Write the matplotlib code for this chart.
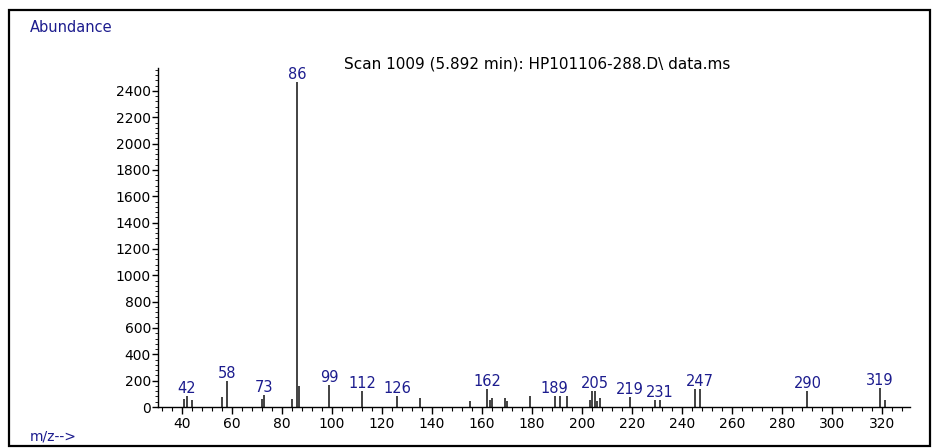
import numpy as np
import matplotlib
matplotlib.use('Agg')
import matplotlib.pyplot as plt
from matplotlib.patches import Rectangle
from matplotlib.ticker import MultipleLocator, FixedLocator

plt.rcParams['font.family'] = ['DejaVu Sans']

# peak list (m/z, abundance)
mz = [41, 42, 44, 56, 58, 72, 73, 84, 86, 87, 99, 112, 126, 135, 155,
      162, 163, 164, 169, 170, 179, 189, 191, 194, 203, 204, 205, 206,
      207, 219, 229, 231, 245, 247, 290, 319, 321]
abund = [64, 82, 51, 74, 197, 59, 92, 59, 2470, 156, 167, 120, 82, 72, 47,
         134, 51, 66, 71, 49, 82, 82, 82, 82, 56, 120, 120, 46,
         72, 75, 56, 56, 137, 137, 120, 142, 50]
labelled = [42, 58, 73, 86, 99, 112, 126, 162, 189, 205, 219, 231, 247, 290, 319]

title = 'Scan 1009 (5.892 min): HP101106-288.D\\ data.ms'
navy = '#1c1c8e'

W, H = 938, 448
fig = plt.figure(figsize=(W / 100, H / 100), dpi=100)


def fx(px):
    return px / W


def fy(py):
    return 1 - py / H


# outer frame
fig.patches.append(Rectangle((fx(9), fy(446)), fx(930) - fx(9), fy(10) - fy(446),
                             transform=fig.transFigure, fill=False,
                             edgecolor='black', lw=1.6))

ax = fig.add_axes([fx(158), fy(407), fx(910) - fx(158), fy(68) - fy(407)])
ax.vlines(mz, 0, abund, colors='#222222', lw=1.2)

lookup = dict(zip(mz, abund))
for m in labelled:
    ax.annotate(str(m), (m, lookup[m]), xytext=(0, 0), textcoords='offset points',
                ha='center', va='bottom', color=navy, fontsize=10.5,
                bbox=dict(facecolor='white', edgecolor='none', pad=0))

ax.set_xlim(30.5, 331)
ax.set_ylim(0, 2574)
for s in ['top', 'right']:
    ax.spines[s].set_visible(False)
for s in ['left', 'bottom']:
    ax.spines[s].set_linewidth(1.0)

ax.xaxis.set_major_locator(FixedLocator(np.arange(40, 321, 20)))
ax.xaxis.set_minor_locator(FixedLocator(np.arange(32, 331, 4)))
ax.yaxis.set_major_locator(FixedLocator(np.arange(0, 2401, 200)))
ax.yaxis.set_minor_locator(MultipleLocator(40))
ax.tick_params(axis='x', which='major', length=5, width=1, pad=2, labelsize=10)
ax.tick_params(axis='x', which='minor', length=3, width=0.8)
ax.tick_params(axis='y', which='major', length=4, width=1, pad=1, labelsize=10)
ax.tick_params(axis='y', which='minor', length=2, width=0.6)

fig.text(fx(537), fy(64), title, ha='center', va='center', fontsize=11)
fig.text(fx(30), fy(27), 'Abundance', ha='left', va='center', fontsize=10.5, color=navy)
fig.text(fx(30), fy(436), 'm/z-->', ha='left', va='center', fontsize=10, color=navy)

fig.savefig('out.png', dpi=100)
